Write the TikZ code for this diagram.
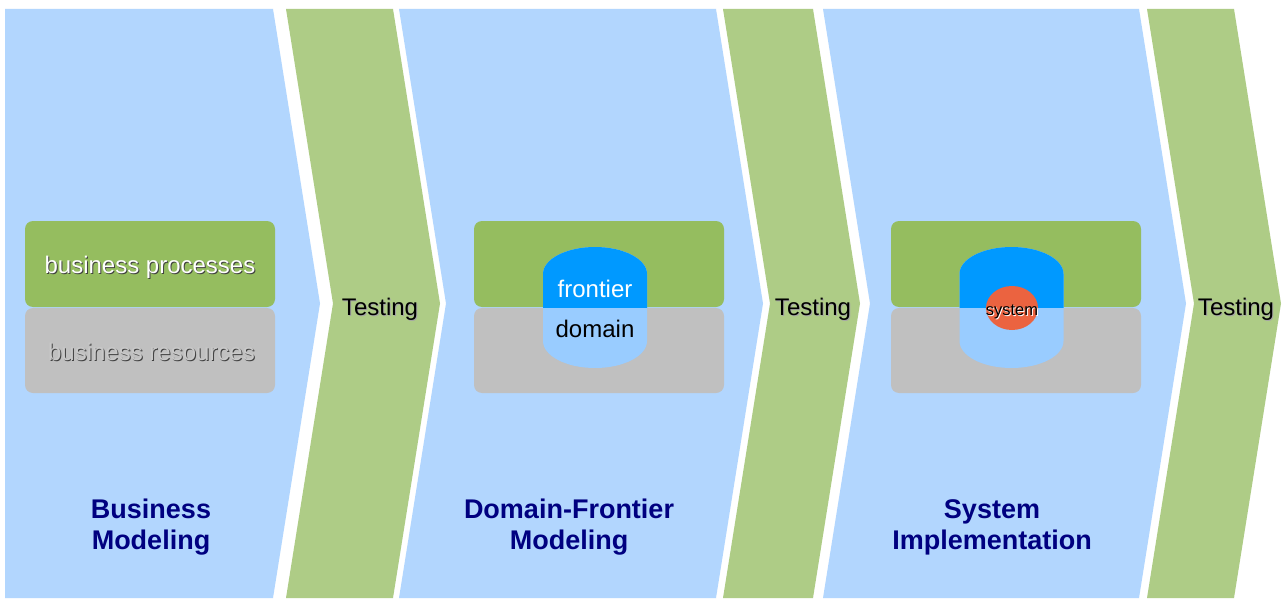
\documentclass[tikz,border=0pt]{standalone}
\usepackage{fontspec}
\setmainfont{Liberation Sans}
\usetikzlibrary{shapes.geometric}
\definecolor{bgblue}{HTML}{B2D6FE}
\definecolor{chevgreen}{HTML}{AECC86}
\definecolor{boxgreen}{HTML}{95BD5F}
\definecolor{boxgray}{HTML}{C0C0C0}
\definecolor{cyldark}{HTML}{0099FF}
\definecolor{cyllight}{HTML}{99CCFF}
\definecolor{sysred}{HTML}{EB6340}
\definecolor{navy}{HTML}{000080}
\definecolor{shadowc}{HTML}{404040}
\definecolor{restext}{HTML}{C8C8C8}
\newcommand\cylshape[1]{(#1-52,274) arc[start angle=180,end angle=0,x radius=52pt,y radius=27pt] -- (#1+52,341) arc[start angle=0,end angle=-180,x radius=52pt,y radius=27pt] -- cycle}
\begin{document}
\begin{tikzpicture}[x=1pt,y=-1pt,
  lbl/.style={font=\fontsize{24}{28}\selectfont, inner sep=0pt, anchor=base},
  small/.style={font=\fontsize{16.5}{20}\selectfont, inner sep=0pt, anchor=base},
  title/.style={font=\fontsize{27}{31}\selectfont\bfseries, text=navy, align=center, inner sep=0pt},
  topbox/.style={rectangle, rounded corners=8pt, fill=boxgreen, minimum width=250pt, minimum height=86pt, inner sep=0pt},
  botbox/.style={rectangle, rounded corners=8pt, fill=boxgray, minimum width=250pt, minimum height=85pt, inner sep=0pt},
  bluechev/.style={fill=bgblue},
  greenchev/.style={fill=chevgreen}]
\useasboundingbox (0,0) rectangle (1282,599);
\fill[white] (0,0) rectangle (1282,599);
% chevrons
\fill[bluechev] (5,9) -- (273,9) -- (320,303.5) -- (273,598) -- (5,598) -- cycle;
\fill[greenchev] (286,9) -- (393,9) -- (440,303.5) -- (393,598) -- (286,598) -- (333,303.5) -- cycle;
\fill[bluechev] (399,9) -- (716,9) -- (763,303.5) -- (716,598) -- (399,598) -- (446,303.5) -- cycle;
\fill[greenchev] (723,9) -- (813,9) -- (860,303.5) -- (813,598) -- (723,598) -- (770,303.5) -- cycle;
\fill[bluechev] (823,9) -- (1139,9) -- (1186,303.5) -- (1139,598) -- (823,598) -- (870,303.5) -- cycle;
\fill[greenchev] (1147,9) -- (1234,9) -- (1281,303.5) -- (1234,598) -- (1147,598) -- (1194,303.5) -- cycle;
% boxes
\node[topbox] (p1) at (150,264) {};
\node[botbox] (r1) at (150,350.5) {};
\node[topbox] (p2) at (599,264) {};
\node[botbox] (r2) at (599,350.5) {};
\node[topbox] (p3) at (1016,264) {};
\node[botbox] (r3) at (1016,350.5) {};
% box 1 texts
\node[lbl, text=shadowc] (bps) at (151,274) {business processes};
\node[lbl, text=white] (bp) at (150,273) {business processes};
\node[lbl, text=shadowc] (brs) at (152.5,361) {business resources};
\node[lbl, text=restext] (br) at (151.5,360) {business resources};
% cylinder 2
\fill[cyllight] \cylshape{595};
\begin{scope}
\clip (0,0) rectangle (1282,307.5);
\fill[cyldark] \cylshape{595};
\end{scope}
\node[lbl, text=white] (fr) at (595,297) {frontier};
\node[lbl, text=black] (dom) at (595,337) {domain};
% cylinder 3
\fill[cyllight] \cylshape{1011.5};
\begin{scope}
\clip (0,0) rectangle (1282,307.5);
\fill[cyldark] \cylshape{1011.5};
\end{scope}
\node[ellipse, fill=sysred, minimum width=52pt, minimum height=44pt, inner sep=0pt] (sys) at (1012,308) {};
\node[small, text=white] (syss) at (1013,316) {system};
\node[small, text=black] (syst) at (1012,315) {system};
% testing labels
\node[lbl, text=gray!70] (t1s) at (381,316) {Testing};
\node[lbl] (t1) at (380,315) {Testing};
\node[lbl, text=gray!70] (t2s) at (814,316) {Testing};
\node[lbl] (t2) at (813,315) {Testing};
\node[lbl, text=gray!70] (t3s) at (1237,316) {Testing};
\node[lbl] (t3) at (1236,315) {Testing};
% titles
\node[title] (bm) at (151,527.5) {Business\\Modeling};
\node[title] (dfm) at (569,527.5) {Domain-Frontier\\Modeling};
\node[title] (si) at (992,527.5) {System\\Implementation};
\end{tikzpicture}
\end{document}
